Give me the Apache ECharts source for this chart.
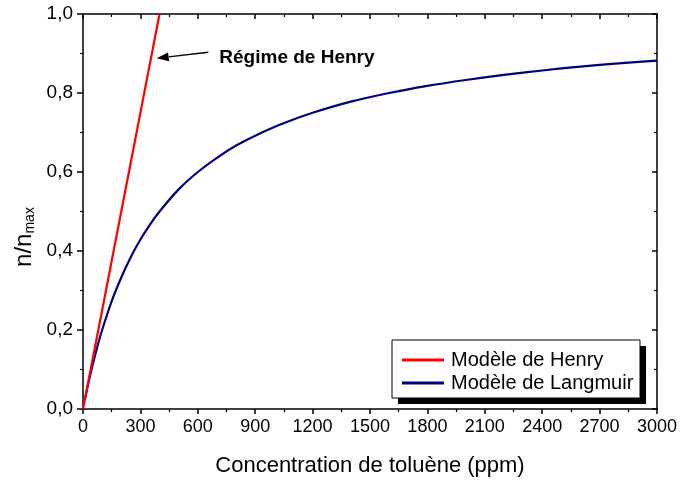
<!DOCTYPE html>
<html>
<head>
<meta charset="utf-8">
<script src="https://cdn.jsdelivr.net/npm/echarts@6/dist/echarts.min.js"></script>
<style>
  html, body { margin: 0; padding: 0; background: #fff; }
  #chart { width: 680px; height: 482px; }
</style>
</head>
<body>
<div id="chart"></div>
<script>
// Concentration (ppm) and relative loading n/nmax
const henryConc = [0, 400];
const henryVals = [0, 1.0];

const langmuirConc = [10, 25, 50, 75, 100, 150, 200, 250, 300, 350, 400, 500, 600, 700, 800, 900, 1000, 1100, 1200, 1400, 1600, 1800, 2000, 2200, 2400, 2600, 2800, 3000];
const langmuirVals = [0.024, 0.059, 0.111, 0.158, 0.2, 0.273, 0.333, 0.385, 0.429, 0.467, 0.5, 0.556, 0.6, 0.636, 0.667, 0.692, 0.714, 0.733, 0.75, 0.778, 0.8, 0.818, 0.833, 0.846, 0.857, 0.867, 0.875, 0.882];

const xTicks = [0, 300, 600, 900, 1200, 1500, 1800, 2100, 2400, 2700, 3000];
const yTicks = [0.0, 0.2, 0.4, 0.6, 0.8, 1.0];

const seriesNames = ['Modèle de Henry', 'Modèle de Langmuir'];
const annotationText = 'Régime de Henry';
// annotation arrow: tail and head, in data units
const arrowTail = [655, 0.903];
const arrowHead = [385, 0.888];

const FONT = '"Liberation Sans", Arial, sans-serif';

const chart = echarts.init(document.getElementById('chart'), null, { renderer: 'canvas' });

const axisLine = { show: true, onZero: false, lineStyle: { color: '#000', width: 1.5 } };

function zip(a, b) { return a.map((v, i) => [v, b[i]]); }

function mirrorAxis(pos, min, max, interval) {
  return {
    type: 'value', min: min, max: max, interval: interval, position: pos,
    axisLine: axisLine,
    axisTick: { show: true, inside: true, length: 5, lineStyle: { color: '#000', width: 1.5 } },
    minorTick: { show: true, splitNumber: 2, length: 3, lineStyle: { color: '#000', width: 1.2 } },
    splitLine: { show: false },
    axisLabel: { show: false }
  };
}

const option = {
  animation: false,
  backgroundColor: '#fff',
  grid: { left: 83, right: 23, top: 14, bottom: 70, containLabel: false },
  legend: {
    data: seriesNames,
    orient: 'vertical',
    left: 402,
    top: 349,
    padding: 0,
    itemGap: 1,
    itemWidth: 42,
    itemHeight: 3,
    icon: 'rect',
    z: 20,
    textStyle: { fontFamily: FONT, fontSize: 20, color: '#000', padding: [0, 0, 0, 2], lineHeight: 22 }
  },
  xAxis: [
    {
      type: 'value', min: 0, max: 3000, interval: 300,
      name: 'Concentration de toluène (ppm)',
      nameLocation: 'middle', nameGap: 46,
      nameTextStyle: { fontFamily: FONT, fontSize: 22, color: '#000' },
      axisLine: axisLine,
      axisTick: { show: true, inside: false, length: 5, lineStyle: { color: '#000', width: 1.5 } },
      minorTick: { show: true, splitNumber: 2, length: 3, lineStyle: { color: '#000', width: 1.2 } },
      splitLine: { show: false },
      axisLabel: {
        fontFamily: FONT, fontSize: 18, color: '#000', margin: 9,
        customValues: xTicks,
        formatter: v => String(v)
      }
    },
    mirrorAxis('top', 0, 3000, 300)
  ],
  yAxis: [
    {
      type: 'value', min: 0, max: 1.0, interval: 0.2,
      axisLine: axisLine,
      axisTick: { show: true, inside: false, length: 6, lineStyle: { color: '#000', width: 1.5 } },
      minorTick: { show: true, splitNumber: 2, length: 3, lineStyle: { color: '#000', width: 1.2 } },
      splitLine: { show: false },
      axisLabel: {
        fontFamily: FONT, fontSize: 19, color: '#000', margin: 10,
        customValues: yTicks,
        formatter: v => v.toFixed(1).replace('.', ',')
      }
    },
    mirrorAxis('right', 0, 1.0, 0.2)
  ],
  series: [
    {
      name: seriesNames[0],
      type: 'line',
      xAxisIndex: 0, yAxisIndex: 0,
      data: zip(henryConc, henryVals),
      showSymbol: false,
      color: '#ff0000',
      lineStyle: { color: '#ff0000', width: 2.2 },
      z: 3
    },
    {
      name: seriesNames[1],
      type: 'line',
      xAxisIndex: 0, yAxisIndex: 0,
      data: zip(langmuirConc, langmuirVals),
      showSymbol: false,
      smooth: 0.3,
      color: '#000080',
      lineStyle: { color: '#000080', width: 2.2 },
      z: 2
    }
  ]
};

chart.setOption(option);

// legend frame with drop shadow, arrow annotation and y-axis title
const toPx = p => chart.convertToPixel({ xAxisIndex: 0, yAxisIndex: 0 }, p);
const tail = toPx(arrowTail);
const head = toPx(arrowHead);
const ang = Math.atan2(tail[1] - head[1], tail[0] - head[0]);
const headLen = 12, headHalf = 4.5;
const bx = head[0] + headLen * Math.cos(ang), by = head[1] + headLen * Math.sin(ang);
const nx = -Math.sin(ang) * headHalf, ny = Math.cos(ang) * headHalf;

chart.setOption({
  graphic: [
    { type: 'rect', z: 5, shape: { x: 398, y: 346, width: 248, height: 58 }, style: { fill: '#000' } },
    { type: 'rect', z: 6, shape: { x: 392, y: 340, width: 248, height: 58 }, style: { fill: '#fff', stroke: '#000', lineWidth: 1 } },
    { type: 'line', z: 7, shape: { x1: tail[0], y1: tail[1], x2: bx, y2: by }, style: { stroke: '#000', lineWidth: 1.5 } },
    { type: 'polygon', z: 7, shape: { points: [[head[0], head[1]], [bx + nx, by + ny], [bx - nx, by - ny]] }, style: { fill: '#000' } },
    {
      type: 'text', z: 7,
      x: tail[0] + 11, y: tail[1] + 5,
      style: {
        text: annotationText,
        fontFamily: FONT, fontSize: 19, fontWeight: 'bold', fill: '#000',
        verticalAlign: 'middle', align: 'left'
      }
    },
    {
      type: 'text', z: 7,
      x: 24, y: 237, rotation: Math.PI / 2,
      style: {
        text: '{n|n/n}{s|max}',
        align: 'center', verticalAlign: 'middle',
        rich: {
          n: { fontFamily: FONT, fontSize: 24, fill: '#000', color: '#000' },
          s: { fontFamily: FONT, fontSize: 14, fill: '#000', color: '#000', padding: [13, 0, 0, 0] }
        }
      }
    }
  ]
});
</script>
</body>
</html>
